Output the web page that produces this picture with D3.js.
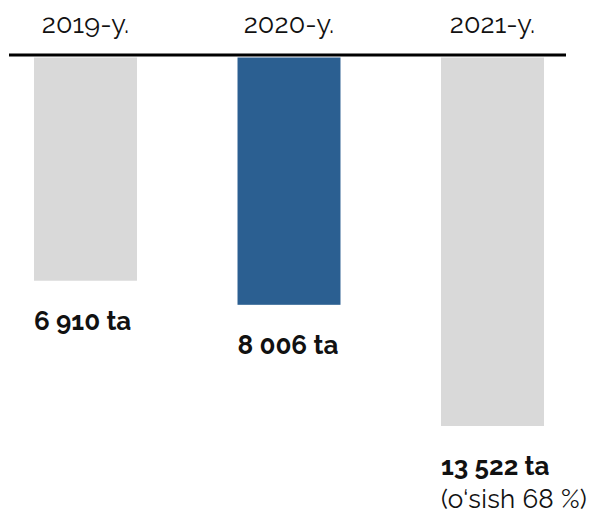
<!DOCTYPE html>
<html>
<head>
<meta charset="utf-8">
<script src="https://cdn.jsdelivr.net/npm/d3@7"></script>
<style>
  html, body { margin: 0; padding: 0; background: #fff; }
  svg { display: block; }
  text { font-family: Raleway, Lato, "Open Sans", sans-serif; fill: #111; font-variant-numeric: oldstyle-nums; }
</style>
</head>
<body>
<script>
// Annual counts, shown as bars hanging from a common baseline
const years = ["2019-y.", "2020-y.", "2021-y."];
const values = [6910, 8006, 13522];
const valueLabels = ["6 910 ta", "8 006 ta", "13 522 ta"];
const notes = ["", "", "(o‘sish 68 %)"];
const highlight = [false, true, false];

const W = 589, H = 517;
const svg = d3.select("body").append("svg").attr("width", W).attr("height", H);

const x = d3.scaleBand().domain(years).range([34, 544]).paddingInner(0.494).paddingOuter(0);
// value axis runs downward from just under the baseline rule
const y = d3.scaleLinear().domain([-3250, 13522]).range([57.5, 426]);

const g = svg.append("g");

g.selectAll("rect.bar")
  .data(years)
  .enter().append("rect")
  .attr("class", "bar")
  .attr("x", d => x(d))
  .attr("width", x.bandwidth())
  .attr("y", y.range()[0])
  .attr("height", (d, i) => y(values[i]) - y.range()[0])
  .attr("fill", (d, i) => highlight[i] ? "#2b5f91" : "#d9d9d9");

// baseline rule
g.append("line")
  .attr("x1", 9).attr("x2", 566)
  .attr("y1", 55).attr("y2", 55)
  .attr("stroke", "#000").attr("stroke-width", 3);

// year headers
g.selectAll("text.year")
  .data(years)
  .enter().append("text")
  .attr("class", "year")
  .attr("x", d => x(d) + x.bandwidth() / 2)
  .attr("y", 33)
  .attr("text-anchor", "middle")
  .attr("font-size", 27)
  .attr("font-weight", 400)
  .attr("letter-spacing", 0.1)
  .text(d => d);

// value labels under each bar
g.selectAll("text.val")
  .data(years)
  .enter().append("text")
  .attr("class", "val")
  .attr("x", d => x(d))
  .attr("y", (d, i) => y(values[i]) + 49)
  .attr("font-size", 26)
  .attr("font-weight", 700)
  .attr("letter-spacing", 0)
  .text((d, i) => valueLabels[i]);

g.selectAll("text.note")
  .data(years)
  .enter().append("text")
  .attr("class", "note")
  .attr("x", d => x(d))
  .attr("y", (d, i) => y(values[i]) + 82)
  .attr("font-size", 26)
  .attr("font-weight", 400)
  .attr("letter-spacing", 0.3)
  .text((d, i) => notes[i]);
</script>
</body>
</html>
